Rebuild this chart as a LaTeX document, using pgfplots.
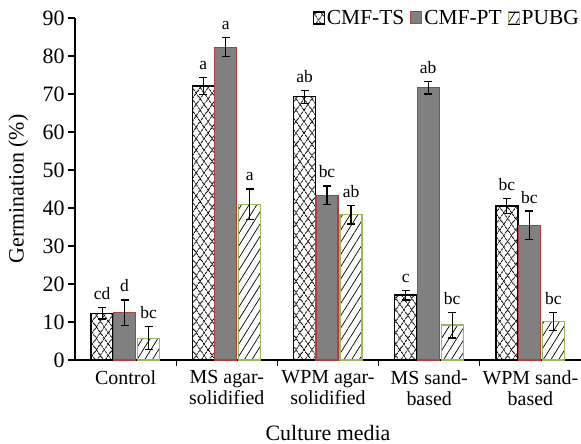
\documentclass[border=0pt]{standalone}
\usepackage{pgfplots}
\pgfplotsset{compat=1.18}
\usepackage{fontspec}
\setmainfont{Liberation Serif}
\usetikzlibrary{patterns.meta}
\definecolor{ptred}{RGB}{180,60,60}
\definecolor{ptgray}{RGB}{128,128,128}
\definecolor{pubggreen}{RGB}{155,187,89}
\tikzset{
  tsA/.style={pattern={Lines[angle=55,distance=6bp,line width=0.8bp]},pattern color=black},
  tsB/.style={pattern={Lines[angle=-55,distance=6bp,line width=0.8bp]},pattern color=black},
  pubgP/.style={pattern={Lines[angle=58,distance=6.5bp,line width=0.7bp]},pattern color=black},
}
\begin{document}
\begin{tikzpicture}
\useasboundingbox (-75bp,-84bp) rectangle (506bp,360bp);
\begin{axis}[
  scale only axis, width=506bp, height=342bp,
  xmin=-0.5, xmax=4.5, ymin=0, ymax=90,
  ybar, bar width=22bp,
  axis x line*=bottom, axis y line*=left,
  axis line style={-, line width=1.2bp, black},
  ytick={0,10,...,90},
  xtick={0,1,2,3,4},
  xticklabels={Control, {MS agar-\\solidified}, {WPM agar-\\solidified}, {MS sand-\\based}, {WPM sand-\\based}},
  x tick label style={align=center, font=\fontsize{20}{21}\selectfont},
  y tick label style={font=\fontsize{22}{22}\selectfont},
  major x tick style={draw=none},
  minor xtick={0.5,1.5,2.5,3.5},
  minor x tick style={line width=1.2bp, black},
  minor tick length=6bp,
  major y tick style={line width=1.1bp, black},
  major tick length=7bp,
  tick align=outside,
  /pgf/number format/assume math mode=true,
  xlabel={Culture media}, ylabel={Germination (\%)},
  label style={font=\fontsize{22}{22}\selectfont},
  xlabel style={at={(axis description cs:0.5,-0.234)}, anchor=base},
  ylabel style={at={(axis description cs:-0.112,0.5)}, anchor=center},
  legend columns=3,
  legend style={at={(rel axis cs:1,1)}, anchor=east, draw=none, fill=none, inner sep=0pt, font=\fontsize{21.5}{22}\selectfont, /tikz/every even column/.append style={column sep=4bp}},
  legend cell align=left,
  error bars/error bar style={line width=1.1bp, black},
  error bars/error mark options={line width=1.1bp, black, mark size=4bp, rotate=90},
  nodes near coords style={font=\fontsize{17.5}{18}\selectfont},
]
\addlegendimage{legend image code/.code={
  \fill[white] (0bp,-6bp) rectangle (11bp,6bp);
  \fill[tsA] (0bp,-6bp) rectangle (11bp,6bp);
  \fill[tsB] (0bp,-6bp) rectangle (11bp,6bp);
  \draw[black, line width=1bp] (0bp,-6bp) rectangle (11bp,6bp);}}
\addlegendentry{CMF-TS}
\addlegendimage{legend image code/.code={
  \draw[fill=ptgray, draw=ptred, line width=1bp] (0bp,-6bp) rectangle (11bp,6bp);}}
\addlegendentry{CMF-PT}
\addlegendimage{legend image code/.code={
  \fill[white] (0bp,-6bp) rectangle (11bp,6bp);
  \fill[pubgP] (0bp,-6bp) rectangle (11bp,6bp);
  \draw[pubggreen, line width=1bp] (0bp,-6bp) rectangle (11bp,6bp);}}
\addlegendentry{PUBG}
% CMF-TS
\addplot[forget plot, bar shift=-23.5bp, fill=white, draw=none, postaction={tsA}] coordinates {(0,12.3) (1,72.1) (2,69.3) (3,17.1) (4,40.5)};
\addplot[forget plot, bar shift=-23.5bp, draw=black, line width=1.2bp, postaction={tsB},
  error bars/.cd, y dir=both, y explicit] coordinates {
  (0,12.3) +- (0,1.5) (1,72.1) +- (0,2.2) (2,69.3) +- (0,1.7) (3,17.1) +- (0,1.3) (4,40.5) +- (0,1.9)};
% CMF-PT
\addplot[forget plot, bar shift=-1bp, fill=ptgray, draw=ptred, line width=1.1bp,
  error bars/.cd, y dir=both, y explicit] coordinates {
  (0,12.4) +- (0,3.4) (1,82.3) +- (0,2.5) (2,43.4) +- (0,2.4) (3,71.7) +- (0,1.7) (4,35.5) +- (0,3.7)};
% PUBG
\addplot[forget plot, bar shift=23bp, fill=white, draw=pubggreen, line width=1.1bp, postaction={pubgP},
  error bars/.cd, y dir=both, y explicit] coordinates {
  (0,5.7) +- (0,3.0) (1,41.0) +- (0,4.0) (2,38.2) +- (0,2.4) (3,9.2) +- (0,3.4) (4,10.1) +- (0,2.4)};
% letters
\addplot[forget plot, bar shift=-23.5bp, draw=none, fill=none, nodes near coords, point meta=explicit symbolic,
  every node near coord/.append style={anchor=base, yshift=8bp, inner sep=0pt}] coordinates {
  (0,13.8)[cd] (1,74.3)[a] (2,71.0)[ab] (3,18.4)[c] (4,42.4)[bc]};
\addplot[forget plot, bar shift=-1bp, draw=none, fill=none, nodes near coords, point meta=explicit symbolic,
  every node near coord/.append style={anchor=base, yshift=8bp, inner sep=0pt}] coordinates {
  (0,15.8)[d] (1,84.8)[a] (2,45.8)[bc] (3,73.4)[ab] (4,39.2)[bc]};
\addplot[forget plot, bar shift=23bp, draw=none, fill=none, nodes near coords, point meta=explicit symbolic,
  every node near coord/.append style={anchor=base, yshift=8bp, inner sep=0pt}] coordinates {
  (0,8.7)[bc] (1,45.0)[a] (2,40.6)[ab] (3,12.6)[bc] (4,12.5)[bc]};
\end{axis}
\end{tikzpicture}
\end{document}
